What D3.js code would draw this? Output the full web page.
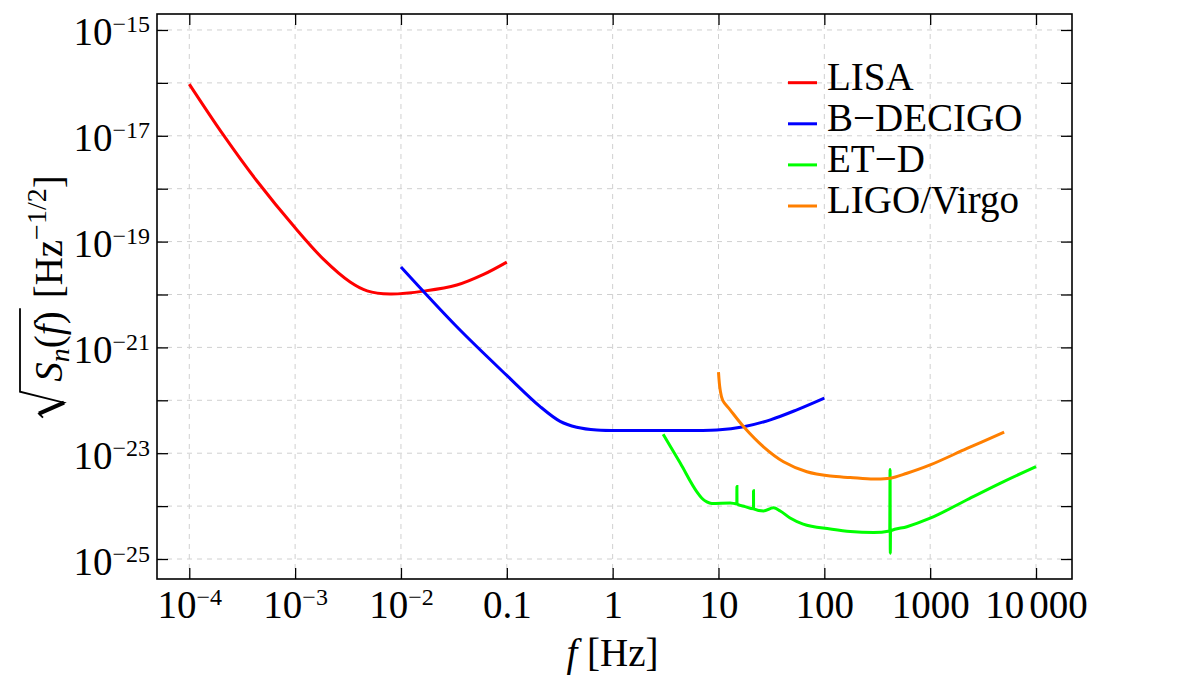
<!DOCTYPE html>
<html>
<head>
<meta charset="utf-8">
<script src="https://cdn.jsdelivr.net/npm/d3@7/dist/d3.min.js"></script>
<style>
 body { margin: 0; background: #fff; }
 svg text { font-family: "Liberation Serif", "DejaVu Serif", serif; fill: #000; }
</style>
</head>
<body>
<svg id="chart" width="1200" height="688"></svg>
<script>
// ---- data ----
var xTicks = [1e-4, 1e-3, 1e-2, 0.1, 1, 10, 100, 1000, 10000];
var xTickLabels = ["10^−4", "10^−3", "10^−2", "0.1", "1", "10", "100", "1000", "10 000"];
var yTicks = [1e-15, 1e-16, 1e-17, 1e-18, 1e-19, 1e-20, 1e-21, 1e-22, 1e-23, 1e-24, 1e-25];
var yTickLabels = ["10^−15", "", "10^−17", "", "10^−19", "", "10^−21", "", "10^−23", "", "10^−25"];

var names = ["LISA", "B−DECIGO", "ET−D", "LIGO/Virgo"];
var colors = ["#ff0000", "#0000ff", "#00ff00", "#ff7f00"];

// [f (Hz), sqrt(Sn) (Hz^-1/2)]
var lisa = [
  [1e-4, 9.5e-17], [2.09e-4, 1.05e-17], [4.34e-4, 1.41e-18], [1.0e-3, 1.82e-19],
  [1.86e-3, 4.6e-20], [3.31e-3, 1.72e-20], [4.79e-3, 1.17e-20],
  [7.89e-3, 1.02e-20], [1.70e-2, 1.17e-20], [3.37e-2, 1.51e-20], [6.03e-2, 2.4e-20],
  [0.1, 4.1e-20]
];
var bdecigo = [
  [1e-2, 3.3e-20], [3.37e-2, 2.45e-21], [0.1, 2.95e-22], [0.2065, 7.6e-23],
  [0.319, 4.0e-23], [0.457, 3.1e-23], [0.708, 2.75e-23], [1.82, 2.7e-23],
  [9.66, 2.75e-23], [17.3, 3.16e-23], [30.9, 4.27e-23], [55, 6.6e-23], [100, 1.1e-22]
];
var etd = [
  [3.0, 2.29e-23], [4.35, 6.5e-24], [6.25, 1.86e-24], [6.97, 1.41e-24], [7.76, 1.2e-24],
  [8.65, 1.12e-24], [12.9, 1.15e-24], [14.9, 1.10e-24], [14.93, 2.34e-24], [14.96, 1.10e-24],
  [17.8, 9.8e-25], [21.4, 8.9e-25], [21.43, 1.95e-24], [21.46, 8.9e-25], [26.6, 8.1e-25],
  [33.1, 9.3e-25], [38.3, 8.1e-25], [47.5, 5.96e-25], [63.1, 4.57e-25], [114, 3.7e-25],
  [176, 3.3e-25], [292, 3.16e-25], [415, 3.39e-25], [418, 4.9e-24], [420, 1.29e-25],
  [422, 3.39e-25], [603, 4.07e-25], [1000, 5.9e-25], [2230, 1.32e-24], [4570, 2.7e-24],
  [10000, 5.6e-24]
];
var ligo = [
  [10, 3.4e-22], [10.37, 1.58e-22], [10.96, 1.0e-22], [12.88, 6.6e-23], [17.3, 3.16e-23],
  [26.6, 1.32e-23], [41.1, 6.9e-24], [68.4, 4.47e-24], [114, 3.7e-24], [176, 3.47e-24],
  [292, 3.24e-24], [417, 3.35e-24], [603, 4.17e-24], [1000, 6.0e-24], [2230, 1.23e-23],
  [5000, 2.5e-23]
];
var curves = [lisa, bdecigo, etd, ligo];

// ---- layout ----
var margin = {top: 14, right: 128, bottom: 109, left: 157};
var width = 1200 - margin.left - margin.right;
var height = 688 - margin.top - margin.bottom;
var fs = 39, supFs = 24;
var serif = "'Liberation Serif', 'DejaVu Serif', serif";

var svg = d3.select("#chart").attr("font-family", serif);
var g = svg.append("g").attr("transform", "translate(" + margin.left + "," + margin.top + ")");

var x = d3.scaleLog().domain([Math.pow(10, -4.305), Math.pow(10, 4.34)]).range([0, width]);
var y = d3.scaleLog().domain([Math.pow(10, -25.378), Math.pow(10, -14.698)]).range([height, 0]);

// grid
var grid = g.append("g").attr("stroke", "#d0d0d0").attr("stroke-width", 1).attr("stroke-dasharray", "5,5");
grid.selectAll(".gx").data(xTicks).enter().append("line")
    .attr("x1", d => x(d)).attr("x2", d => x(d)).attr("y1", 0).attr("y2", height);
grid.selectAll(".gy").data(yTicks).enter().append("line")
    .attr("y1", d => y(d)).attr("y2", d => y(d)).attr("x1", 0).attr("x2", width);

function addLabel(sel, s) {
  var parts = s.split("^");
  var base = parts[0].split(" ");
  sel.text(null);
  sel.append("tspan").text(base[0]);
  if (base[1]) sel.append("tspan").attr("dx", 5).text(base[1]);
  if (parts[1]) sel.append("tspan").attr("dy", -13).attr("font-size", supFs).text(parts[1]);
}

function styleAxis(ax) {
  ax.select(".domain").remove();
  ax.attr("font-family", serif).attr("font-size", fs);
  ax.selectAll(".tick line").attr("stroke", "#000").attr("stroke-width", 1.3);
}

// axes with inward ticks
var gx = g.append("g").attr("transform", "translate(0," + height + ")")
    .call(d3.axisBottom(x).tickValues(xTicks).tickSizeInner(-11).tickSizeOuter(0).tickFormat(""));
styleAxis(gx);
gx.selectAll(".tick text").attr("y", 39).attr("dy", null)
    .each(function(d, i) { addLabel(d3.select(this), xTickLabels[i]); });

var gt = g.append("g")
    .call(d3.axisTop(x).tickValues(xTicks).tickSizeInner(-11).tickSizeOuter(0).tickFormat(""));
styleAxis(gt);
gt.selectAll(".tick text").remove();

var gy = g.append("g")
    .call(d3.axisLeft(y).tickValues(yTicks).tickSizeInner(-11).tickSizeOuter(0).tickFormat(""));
styleAxis(gy);
gy.selectAll(".tick text").attr("x", -7).attr("y", 15).attr("dy", null)
    .each(function(d, i) { addLabel(d3.select(this), yTickLabels[i]); });

var gr = g.append("g").attr("transform", "translate(" + width + ",0)")
    .call(d3.axisRight(y).tickValues(yTicks).tickSizeInner(-11).tickSizeOuter(0).tickFormat(""));
styleAxis(gr);
gr.selectAll(".tick text").remove();

// curves: smooth for the plain ones, monotone for ET-D (keeps the spikes straight)
var smooth = d3.line().x(d => x(d[0])).y(d => y(d[1])).curve(d3.curveCatmullRom.alpha(0.5));
var mono = d3.line().x(d => x(d[0])).y(d => y(d[1])).curve(d3.curveMonotoneX);
g.selectAll(".curve").data(curves).enter().append("path")
    .attr("class", "curve")
    .attr("fill", "none")
    .attr("stroke", (d, i) => colors[i])
    .attr("stroke-width", 3)
    .attr("d", d => d === etd ? mono(d) : smooth(d));

// frame
g.append("rect").attr("width", width).attr("height", height)
    .attr("fill", "none").attr("stroke", "#000").attr("stroke-width", 1.6);

// legend
var leg = g.append("g").attr("transform", "translate(" + (788 - margin.left) + "," + (82.7 - margin.top) + ")");
var item = leg.selectAll(".item").data(names).enter().append("g")
    .attr("transform", (d, i) => "translate(0," + (i * 41.1) + ")");
item.append("line").attr("x1", 0).attr("x2", 29).attr("y1", 0).attr("y2", 0)
    .attr("stroke", (d, i) => colors[i]).attr("stroke-width", 3);
item.append("text").attr("x", 39).attr("y", 7).attr("font-size", fs).text(d => d);

// x title
var xt = svg.append("text").attr("x", margin.left + width / 2 - 2).attr("y", 666)
    .attr("text-anchor", "middle").attr("font-size", fs);
xt.append("tspan").attr("font-style", "italic").text("f");
xt.append("tspan").text(" [Hz]");

// y title: sqrt(S_n(f)) [Hz^-1/2]
var yt = svg.append("g").attr("transform", "translate(62," + (margin.top + height / 2) + ") rotate(-90)");
var rad = yt.append("text").attr("font-size", fs);
rad.append("tspan").attr("font-style", "italic").text("S");
rad.append("tspan").attr("font-style", "italic").attr("font-size", 28).attr("dy", 7).text("n");
rad.append("tspan").attr("dy", -7).text("(");
rad.append("tspan").attr("font-style", "italic").text("f");
rad.append("tspan").text(")");
var rest = yt.append("text").attr("font-size", fs);
rest.append("tspan").text("[Hz");
rest.append("tspan").attr("font-size", 28).attr("dy", -16).text("−1/2");
rest.append("tspan").attr("dy", 16).text("]");

var w1 = rad.node().getComputedTextLength();
var w2 = rest.node().getComputedTextLength();
var rw = 36, gap = 13;
var start = -(rw + w1 + gap + w2) / 2;
var xr = start + rw;
rad.attr("x", xr);
rest.attr("x", xr + w1 + gap);
var barY = -42;
yt.append("path")
    .attr("d", "M" + (start) + "," + (-19) + "L" + (start + 4) + "," + (-23) + "L" + (start + 15) + ",2"
        + "L" + (xr - 10) + "," + barY + "L" + (xr + w1 + 3) + "," + barY)
    .attr("fill", "none").attr("stroke", "#000").attr("stroke-width", 1.8);
yt.append("path")
    .attr("d", "M" + (start + 4) + "," + (-23) + "L" + (start + 15) + ",2")
    .attr("fill", "none").attr("stroke", "#000").attr("stroke-width", 4);
</script>
</body>
</html>
